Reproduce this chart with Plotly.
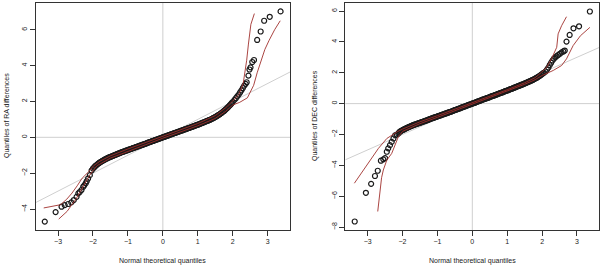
import plotly.graph_objects as go

# ---------------- RA panel data (theoretical quantile, sample quantile) ----------------
ra_x = [-3.38, -3.07, -2.90, -2.81, -2.71, -2.62, -2.55, -2.47, -2.42, -2.38, -2.33, -2.28, -2.25, -2.21, -2.18, -2.14, -2.09, -2.04,
        -2.000, -1.975, -1.950, -1.925, -1.900, -1.875, -1.850, -1.825, -1.800, -1.775, -1.750, -1.725, -1.700, -1.675,
        -1.650, -1.625, -1.600, -1.575, -1.550, -1.525, -1.500, -1.475, -1.450, -1.425, -1.400, -1.375, -1.350, -1.325,
        -1.300, -1.275, -1.250, -1.225, -1.200, -1.175, -1.150, -1.125, -1.100, -1.075, -1.050, -1.025, -1.000, -0.975,
        -0.950, -0.925, -0.900, -0.875, -0.850, -0.825, -0.800, -0.775, -0.750, -0.725, -0.700, -0.675, -0.650, -0.625,
        -0.600, -0.575, -0.550, -0.525, -0.500, -0.475, -0.450, -0.425, -0.400, -0.375, -0.350, -0.325, -0.300, -0.275,
        -0.250, -0.225, -0.200, -0.175, -0.150, -0.125, -0.100, -0.075, -0.050, -0.025, 0.000, 0.025, 0.050, 0.075,
        0.100, 0.125, 0.150, 0.175, 0.200, 0.225, 0.250, 0.275, 0.300, 0.325, 0.350, 0.375, 0.400, 0.425, 0.450, 0.475,
        0.500, 0.525, 0.550, 0.575, 0.600, 0.625, 0.650, 0.675, 0.700, 0.725, 0.750, 0.775, 0.800, 0.825, 0.850, 0.875,
        0.900, 0.925, 0.950, 0.975, 1.000, 1.025, 1.050, 1.075, 1.100, 1.125, 1.150, 1.175, 1.200, 1.225, 1.250, 1.275,
        1.300, 1.325, 1.350, 1.375, 1.400, 1.425, 1.450, 1.475, 1.500, 1.525, 1.550, 1.575, 1.600, 1.625, 1.650, 1.675,
        1.700, 1.725, 1.750, 1.775, 1.800, 1.825, 1.850, 1.875, 1.900, 1.925, 1.950, 1.975, 2.000,
        2.05, 2.09, 2.13, 2.17, 2.21, 2.25, 2.29, 2.33, 2.37, 2.40, 2.45, 2.48, 2.51, 2.56, 2.61, 2.70, 2.80, 2.90, 3.06, 3.37]
ra_y = [-4.70, -4.17, -3.87, -3.78, -3.72, -3.63, -3.50, -3.32, -3.13, -3.05, -2.94, -2.76, -2.68, -2.57, -2.45, -2.30, -2.11, -1.85,
        -1.74, -1.69, -1.64, -1.59, -1.55, -1.51, -1.47, -1.43, -1.40, -1.37, -1.34, -1.31, -1.28, -1.25,
        -1.23, -1.20, -1.18, -1.15, -1.13, -1.11, -1.09, -1.07, -1.05, -1.03, -1.01, -0.99, -0.97, -0.95,
        -0.93, -0.91, -0.89, -0.87, -0.85, -0.83, -0.81, -0.80, -0.78, -0.76, -0.74, -0.73, -0.71, -0.69,
        -0.67, -0.66, -0.64, -0.62, -0.60, -0.59, -0.57, -0.55, -0.53, -0.52, -0.50, -0.48, -0.46, -0.45,
        -0.43, -0.41, -0.39, -0.38, -0.36, -0.34, -0.32, -0.30, -0.28, -0.27, -0.25, -0.23, -0.21, -0.20,
        -0.18, -0.16, -0.14, -0.13, -0.11, -0.09, -0.07, -0.06, -0.04, -0.02, 0.00, 0.02, 0.03, 0.05,
        0.07, 0.09, 0.10, 0.12, 0.14, 0.16, 0.17, 0.19, 0.21, 0.23, 0.24, 0.26, 0.28, 0.30, 0.31, 0.33,
        0.35, 0.37, 0.38, 0.40, 0.42, 0.44, 0.45, 0.47, 0.49, 0.51, 0.52, 0.54, 0.56, 0.58, 0.59, 0.61,
        0.63, 0.65, 0.67, 0.69, 0.70, 0.72, 0.74, 0.76, 0.78, 0.80, 0.82, 0.84, 0.86, 0.88, 0.90, 0.92,
        0.94, 0.96, 0.98, 1.00, 1.03, 1.05, 1.08, 1.10, 1.13, 1.16, 1.19, 1.22, 1.25, 1.28, 1.32, 1.35,
        1.39, 1.43, 1.47, 1.51, 1.56, 1.60, 1.65, 1.70, 1.75, 1.80, 1.86, 1.91, 1.97,
        2.09, 2.18, 2.28, 2.38, 2.50, 2.62, 2.75, 2.88, 2.98, 3.07, 3.44, 3.78, 3.90, 4.20, 4.31, 5.43, 5.90, 6.50, 6.72, 7.02]

ra_hi_x = [-3.41, -3.20, -2.93, -2.75, -2.60, -2.45, -2.31, -2.12, -1.98, -1.80, -1.50, -1.00, -0.50, 0.00, 0.50, 1.00,
           1.50, 1.80, 2.00, 2.18, 2.30, 2.35, 2.40, 2.45, 2.52, 2.62]
ra_hi_y = [-3.94, -3.85, -3.76, -3.45, -3.11, -2.70, -2.28, -1.91, -1.58, -1.33, -1.03, -0.65, -0.30, 0.05, 0.41, 0.77,
           1.21, 1.65, 2.02, 2.40, 3.00, 3.60, 4.30, 5.20, 6.30, 6.90]
ra_lo_x = [-2.98, -2.86, -2.74, -2.62, -2.50, -2.36, -2.21, -2.12, -2.02, -1.88, -1.50, -1.00, -0.50, 0.00, 0.50, 1.00,
           1.50, 1.80, 2.00, 2.20, 2.42, 2.60, 2.70, 2.80, 2.92, 3.04, 3.20, 3.36]
ra_lo_y = [-4.56, -4.35, -4.13, -3.80, -3.48, -3.02, -2.46, -2.19, -1.91, -1.58, -1.16, -0.77, -0.42, -0.05, 0.30, 0.64,
           1.05, 1.45, 1.80, 1.95, 2.20, 2.90, 3.60, 4.20, 4.90, 5.40, 6.00, 6.50]

# ---------------- DEC panel data ----------------
dec_x = [-3.37, -3.05, -2.90, -2.79, -2.71, -2.62, -2.55, -2.50, -2.45, -2.41, -2.36, -2.31, -2.26, -2.21, -2.16, -2.12,
         -2.100, -2.075, -2.050, -2.025, -2.000, -1.975, -1.950, -1.925, -1.900, -1.875, -1.850, -1.825, -1.800, -1.775,
         -1.750, -1.725, -1.700, -1.675, -1.650, -1.625, -1.600, -1.575, -1.550, -1.525, -1.500, -1.475, -1.450, -1.425,
         -1.400, -1.375, -1.350, -1.325, -1.300, -1.275, -1.250, -1.225, -1.200, -1.175, -1.150, -1.125, -1.100, -1.075,
         -1.050, -1.025, -1.000, -0.975, -0.950, -0.925, -0.900, -0.875, -0.850, -0.825, -0.800, -0.775, -0.750, -0.725,
         -0.700, -0.675, -0.650, -0.625, -0.600, -0.575, -0.550, -0.525, -0.500, -0.475, -0.450, -0.425, -0.400, -0.375,
         -0.350, -0.325, -0.300, -0.275, -0.250, -0.225, -0.200, -0.175, -0.150, -0.125, -0.100, -0.075, -0.050, -0.025,
         0.000, 0.025, 0.050, 0.075, 0.100, 0.125, 0.150, 0.175, 0.200, 0.225, 0.250, 0.275, 0.300, 0.325, 0.350, 0.375,
         0.400, 0.425, 0.450, 0.475, 0.500, 0.525, 0.550, 0.575, 0.600, 0.625, 0.650, 0.675, 0.700, 0.725, 0.750, 0.775,
         0.800, 0.825, 0.850, 0.875, 0.900, 0.925, 0.950, 0.975, 1.000, 1.025, 1.050, 1.075, 1.100, 1.125, 1.150, 1.175,
         1.200, 1.225, 1.250, 1.275, 1.300, 1.325, 1.350, 1.375, 1.400, 1.425, 1.450, 1.475, 1.500, 1.525, 1.550, 1.575,
         1.600, 1.625, 1.650, 1.675, 1.700, 1.725, 1.750, 1.775, 1.800, 1.825, 1.850, 1.875, 1.900, 1.925, 1.950, 1.975,
         2.000, 2.025, 2.050,
         2.10, 2.14, 2.18, 2.22, 2.26, 2.30, 2.34, 2.38, 2.42, 2.46, 2.51, 2.56, 2.61, 2.65, 2.70, 2.79, 2.90, 3.06, 3.37]
dec_y = [-7.64, -5.78, -5.20, -4.69, -4.35, -3.70, -3.61, -3.53, -3.12, -2.90, -2.69, -2.48, -2.26, -2.05, -2.00, -1.94,
         -1.86, -1.82, -1.78, -1.75, -1.72, -1.69, -1.66, -1.63, -1.60, -1.57, -1.55, -1.52, -1.50, -1.47,
         -1.45, -1.42, -1.40, -1.38, -1.36, -1.34, -1.32, -1.30, -1.28, -1.26, -1.24, -1.22, -1.20, -1.18,
         -1.16, -1.14, -1.12, -1.10, -1.08, -1.06, -1.04, -1.01, -0.99, -0.97, -0.95, -0.93, -0.91, -0.89,
         -0.87, -0.85, -0.83, -0.81, -0.79, -0.77, -0.75, -0.73, -0.71, -0.69, -0.67, -0.65, -0.63, -0.61,
         -0.59, -0.57, -0.55, -0.53, -0.51, -0.49, -0.47, -0.44, -0.42, -0.40, -0.38, -0.36, -0.34, -0.32,
         -0.30, -0.27, -0.25, -0.23, -0.21, -0.19, -0.17, -0.15, -0.13, -0.10, -0.08, -0.06, -0.04, -0.02,
         0.00, 0.02, 0.04, 0.06, 0.08, 0.11, 0.13, 0.15, 0.17, 0.19, 0.21, 0.24, 0.26, 0.28, 0.30, 0.32,
         0.34, 0.36, 0.38, 0.40, 0.42, 0.45, 0.47, 0.49, 0.51, 0.53, 0.55, 0.57, 0.59, 0.62, 0.64, 0.66,
         0.68, 0.70, 0.72, 0.74, 0.76, 0.79, 0.81, 0.83, 0.85, 0.87, 0.89, 0.92, 0.94, 0.96, 0.98, 1.01,
         1.03, 1.05, 1.07, 1.10, 1.12, 1.14, 1.16, 1.19, 1.21, 1.23, 1.25, 1.28, 1.30, 1.33, 1.35, 1.38,
         1.40, 1.43, 1.45, 1.48, 1.50, 1.53, 1.56, 1.59, 1.62, 1.65, 1.68, 1.72, 1.75, 1.79, 1.83, 1.87,
         1.92, 1.96, 2.00,
         2.08, 2.20, 2.33, 2.50, 2.65, 2.80, 2.92, 3.00, 3.08, 3.15, 3.23, 3.32, 3.38, 3.44, 4.02, 4.45, 4.88, 5.01, 5.97]

dec_hi_x = [-3.38, -3.12, -2.93, -2.69, -2.45, -2.31, -2.15, -2.00, -1.50, -1.00, -0.50, 0.00, 0.50, 1.00, 1.50, 1.80,
            1.99, 2.13, 2.27, 2.42, 2.46, 2.56, 2.70]
dec_hi_y = [-5.16, -4.30, -3.66, -2.90, -2.26, -2.05, -1.82, -1.65, -1.18, -0.78, -0.37, 0.05, 0.47, 0.90, 1.35, 1.68,
            2.04, 2.36, 2.90, 3.65, 4.52, 5.05, 5.63]
dec_lo_x = [-2.71, -2.67, -2.64, -2.60, -2.55, -2.45, -2.31, -2.21, -2.12, -2.00, -1.50, -1.00, -0.50, 0.00, 0.50, 1.00,
            1.50, 1.80, 2.00, 2.32, 2.56, 2.70, 2.89, 3.10, 3.37]
dec_lo_y = [-6.99, -6.20, -5.38, -4.80, -4.30, -3.66, -3.23, -2.69, -2.15, -1.80, -1.30, -0.89, -0.47, -0.05, 0.37, 0.80,
            1.25, 1.55, 1.82, 2.15, 2.47, 2.90, 3.76, 4.40, 4.94]

x_ticks = [-3, -2, -1, 0, 1, 2, 3]
ra_yticks = [-4, -2, 0, 2, 4, 6]
dec_yticks = [-8, -6, -4, -2, 0, 2, 4, 6]
x_title = "Normal theoretical quantiles"
ra_title = "Quantiles of RA differences"
dec_title = "Quantiles of DEC differences"

ENV = "#a0302c"
PT = "#1a1a1a"
GRID = "#cfcfcf"
FONT = "Liberation Sans, Arial, sans-serif"

fig = go.Figure()

def add_panel(xs, ys, hx, hy, lx, ly, xa, ya):
    fig.add_trace(go.Scatter(x=xs, y=ys, mode="markers", xaxis=xa, yaxis=ya,
                             marker=dict(symbol="circle-open", size=5, color=PT, line=dict(width=1.2, color=PT)),
                             showlegend=False, hoverinfo="skip"))
    fig.add_trace(go.Scatter(x=hx, y=hy, mode="lines", xaxis=xa, yaxis=ya,
                             line=dict(color=ENV, width=0.9), showlegend=False, hoverinfo="skip"))
    fig.add_trace(go.Scatter(x=lx, y=ly, mode="lines", xaxis=xa, yaxis=ya,
                             line=dict(color=ENV, width=0.9), showlegend=False, hoverinfo="skip"))

add_panel(ra_x, ra_y, ra_hi_x, ra_hi_y, ra_lo_x, ra_lo_y, "x", "y")
add_panel(dec_x, dec_y, dec_hi_x, dec_hi_y, dec_lo_x, dec_lo_y, "x2", "y2")

ydom = [36 / 266, 263 / 266]
axis_common = dict(showgrid=False, zeroline=False, showline=True, mirror=True, linecolor="#333333", linewidth=1,
                   ticks="outside", ticklen=5, tickwidth=1, tickcolor="#333333",
                   tickfont=dict(family=FONT, size=7, color="#222222"))

fig.update_layout(
    width=600, height=266, margin=dict(l=0, r=0, t=0, b=0),
    paper_bgcolor="white", plot_bgcolor="white",
    xaxis=dict(domain=[35.7 / 600, 290 / 600], range=[-3.64, 3.64], tickvals=x_ticks, anchor="y", **axis_common),
    yaxis=dict(domain=ydom, range=[-5.17, 7.49], tickvals=ra_yticks, tickangle=-90, anchor="x", **axis_common),
    xaxis2=dict(domain=[345.3 / 600, 599.3 / 600], range=[-3.64, 3.64], tickvals=x_ticks, anchor="y2", **axis_common),
    yaxis2=dict(domain=ydom, range=[-8.19, 6.52], tickvals=dec_yticks, tickangle=-90, anchor="x2", **axis_common),
)

shapes = []
for xr, yr in (("x", "y"), ("x2", "y2")):
    shapes.append(dict(type="line", xref=xr, yref=yr + " domain", x0=0, x1=0, y0=0, y1=1,
                       line=dict(color=GRID, width=1), layer="below"))
    shapes.append(dict(type="line", xref=xr + " domain", yref=yr, x0=0, x1=1, y0=0, y1=0,
                       line=dict(color=GRID, width=1), layer="below"))
    shapes.append(dict(type="line", xref=xr, yref=yr, x0=-3.64, x1=3.64, y0=-3.64, y1=3.64,
                       line=dict(color=GRID, width=1), layer="below"))
fig.update_layout(shapes=shapes)

ann_font = dict(family=FONT, size=7, color="#222222")
fig.update_layout(annotations=[
    dict(text=x_title, xref="paper", yref="paper", x=162.5 / 600, y=(266 - 261) / 266, showarrow=False,
         font=ann_font, xanchor="center", yanchor="middle"),
    dict(text=x_title, xref="paper", yref="paper", x=472.3 / 600, y=(266 - 261) / 266, showarrow=False,
         font=ann_font, xanchor="center", yanchor="middle"),
    dict(text=ra_title, xref="paper", yref="paper", x=7 / 600, y=(266 - 116) / 266, showarrow=False,
         font=ann_font, textangle=-90, xanchor="center", yanchor="middle"),
    dict(text=dec_title, xref="paper", yref="paper", x=315 / 600, y=(266 - 116) / 266, showarrow=False,
         font=ann_font, textangle=-90, xanchor="center", yanchor="middle"),
])

fig.write_html("out.html", config={"displayModeBar": False},
               post_script="document.body.style.margin='0';document.body.style.padding='0';")
